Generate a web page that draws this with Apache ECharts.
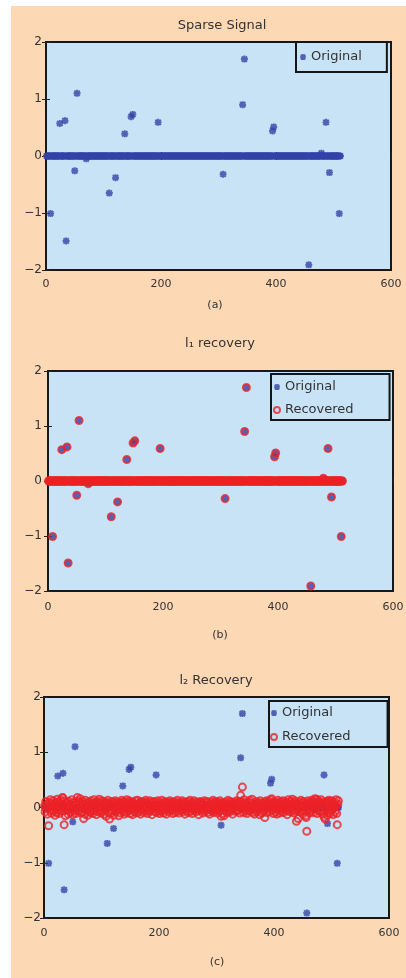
<!DOCTYPE html>
<html>
<head>
<meta charset="utf-8">
<title>Sparse signal recovery</title>
<script src="https://cdn.jsdelivr.net/npm/echarts@6/dist/echarts.min.js"></script>
<style>
  html, body { margin: 0; padding: 0; background: #ffffff; }
  #chart { position: absolute; left: 11px; top: 6px; width: 395px; height: 972px; }
</style>
</head>
<body>
<div id="chart"></div>
<script>
// signal length and axis ticks
const n = 512;
const xTicks = [0, 200, 400, 600];
const yTicks = [-2, -1, 0, 1, 2];

// non-zero entries of the sparse signal (index, value)
const spikeIdx = [8, 24, 33, 35, 50, 54, 70, 110, 121, 137, 148, 151, 195,
  308, 342, 345, 394, 396, 457, 479, 487, 493, 510];
const spikeVal = [-1.01, 0.57, 0.62, -1.49, -0.26, 1.10, -0.05, -0.65, -0.38, 0.39, 0.69, 0.73, 0.59,
  -0.32, 0.90, 1.70, 0.44, 0.51, -1.91, 0.05, 0.59, -0.29, -1.01];

// l2 (minimum norm) recovery, one value per index 1..512
const l2Recovered = [
  0.03, -0.08, 0.11, -0.02, 0.06, -0.12, 0.01, -0.33, 0.09, -0.05, 0.14, 0.02, -0.10, 0.07, -0.03, 0.12,
  -0.06, 0.04, -0.14, 0.08, 0.00, -0.09, 0.15, -0.04, 0.10, -0.11, 0.05, -0.01, 0.13, -0.07, 0.03, 0.18,
  0.17, -0.05, -0.31, 0.12, -0.15, 0.02, 0.09, -0.05, 0.04, -0.12, 0.11, -0.02, 0.07, -0.09, 0.01, 0.14,
  -0.04, -0.13, 0.08, -0.07, 0.03, 0.10, -0.11, 0.05, -0.01, 0.18, 0.12, -0.06, 0.09, -0.03, 0.16, -0.10,
  0.04, -0.08, 0.11, -0.02, -0.20, 0.06, -0.12, 0.13, 0.01, -0.05, 0.08, -0.14, 0.03, 0.10, -0.07, 0.05,
  -0.09, 0.12, -0.03, 0.07, -0.11, 0.02, 0.14, -0.06, 0.09, -0.01, -0.13, 0.06, 0.11, -0.08, 0.04, 0.15,
  -0.05, 0.08, -0.10, 0.03, 0.12, -0.07, 0.01, -0.12, 0.10, -0.04, 0.06, -0.16, 0.09, -0.02, 0.13, -0.09,
  0.05, -0.21, 0.07, -0.11, 0.02, 0.11, -0.06, 0.04, -0.14, 0.08, -0.01, 0.12, -0.08, 0.03, 0.10, -0.05,
  0.07, -0.15, 0.01, 0.09, -0.10, 0.05, 0.13, -0.03, 0.08, -0.07, 0.11, -0.12, 0.02, 0.06, -0.09, 0.14,
  -0.02, 0.09, -0.06, 0.12, 0.04, -0.11, 0.07, -0.04, 0.10, -0.13, 0.03, 0.08, -0.08, 0.01, 0.12, -0.05,
  0.06, -0.10, 0.13, -0.02, 0.05, -0.07, 0.09, -0.12, 0.02, 0.11, -0.04, 0.07, -0.09, 0.04, 0.10, -0.06,
  0.13, -0.03, 0.08, -0.11, 0.01, 0.06, -0.08, 0.12, -0.05, 0.03, 0.09, -0.13, 0.05, -0.01, 0.11, -0.07,
  0.04, 0.10, -0.09, 0.06, -0.02, 0.12, -0.06, 0.03, -0.11, 0.08, 0.00, -0.07, 0.13, -0.04, 0.07, -0.10,
  0.02, 0.11, -0.05, 0.09, -0.12, 0.05, -0.01, 0.10, -0.08, 0.03, 0.12, -0.06, 0.07, -0.03, 0.09, -0.11,
  0.05, -0.04, 0.11, -0.09, 0.02, 0.08, -0.07, 0.13, -0.02, 0.06, -0.10, 0.04, 0.09, -0.05, 0.01, 0.12,
  -0.08, 0.07, -0.03, 0.10, -0.12, 0.04, 0.08, -0.06, 0.02, 0.11, -0.09, 0.05, -0.01, 0.13, -0.07, 0.03,
  0.09, -0.11, 0.06, -0.04, 0.12, -0.02, 0.07, -0.08, 0.03, 0.10, -0.06, 0.01, -0.13, 0.08, -0.03, 0.11,
  -0.05, 0.04, 0.09, -0.10, 0.06, -0.01, 0.12, -0.07, 0.02, 0.08, -0.04, 0.11, -0.09, 0.05, 0.00, -0.12,
  0.07, -0.03, 0.10, -0.06, 0.04, 0.13, -0.09, 0.01, 0.08, -0.05, 0.11, -0.02, 0.06, -0.10, 0.03, 0.09,
  -0.07, 0.12, -0.04, -0.16, 0.05, 0.08, -0.11, 0.02, -0.15, 0.07, -0.06, 0.10, -0.01, 0.04, -0.09, 0.13,
  -0.03, 0.06, -0.08, 0.11, 0.01, -0.05, 0.09, -0.12, 0.04, 0.07, -0.02, 0.10, -0.07, 0.03, 0.12, -0.06,
  0.08, -0.04, 0.05, -0.10, 0.11, 0.22, -0.01, 0.07, 0.37, 0.02, -0.09, 0.14, -0.05, 0.09, -0.03, 0.06,
  -0.11, 0.04, 0.10, -0.07, 0.02, 0.13, -0.06, 0.08, -0.02, 0.15, -0.09, 0.05, 0.01, -0.12, 0.07, -0.04,
  0.11, -0.08, 0.03, 0.09, -0.05, 0.06, -0.13, 0.12, -0.01, 0.04, -0.10, 0.08, -0.06, 0.02, 0.10, -0.18,
  0.05, -0.03, 0.12, -0.09, 0.07, -0.02, 0.11, 0.01, -0.07, 0.14, 0.04, 0.16, -0.05, 0.09, -0.11, 0.06,
  -0.01, 0.10, -0.08, 0.03, -0.12, 0.07, 0.13, -0.04, 0.08, -0.10, 0.02, 0.11, -0.06, 0.05, -0.02, 0.12,
  -0.09, 0.06, 0.01, 0.10, -0.05, 0.08, -0.13, 0.03, 0.14, -0.07, 0.04, -0.02, 0.11, -0.08, 0.06, 0.15,
  -0.04, 0.09, -0.10, 0.02, 0.12, -0.06, -0.25, 0.07, -0.03, -0.20, 0.05, 0.10, -0.08, 0.01, 0.13, -0.05,
  0.08, -0.12, 0.04, 0.11, -0.07, 0.03, -0.15, -0.18, -0.43, 0.06, 0.12, -0.04, 0.09, -0.10, 0.02, 0.07,
  -0.06, 0.13, -0.02, 0.10, -0.09, 0.05, 0.16, -0.03, 0.08, 0.15, -0.11, 0.04, 0.12, -0.05, 0.09, -0.08,
  0.03, 0.14, -0.07, 0.06, -0.12, 0.10, -0.17, 0.01, -0.21, 0.08, -0.04, 0.11, -0.14, 0.05, 0.13, -0.06,
  0.09, -0.10, 0.02, 0.12, -0.05, 0.07, -0.13, 0.04, 0.10, -0.08, 0.03, 0.14, -0.11, -0.31, 0.06, 0.12
];

// full original signal: zero everywhere except the spikes
const original = [];
for (let i = 1; i <= n; i++) original.push([i, 0]);
spikeIdx.forEach((k, j) => { original[k - 1][1] = spikeVal[j]; });
// l1 recovery is exact
const l1Recovered = original.map(p => [p[0], p[1]]);
const l2Points = l2Recovered.map((v, i) => [i + 1, v]);

const FONT = 'DejaVu Sans';
const TXT = '#333333';
const BLUE = '#3342a8';
const RED = '#ec2227';
const AXBG = '#c8e3f6';
// bold asterisk, like a blurred matlab '*'
const star = 'path://M3.6,0H6.4V10H3.6Z M0,3.6H10V6.4H0Z M0.2,2.2L2.2,0.2L9.8,7.8L7.8,9.8Z M7.8,0.2L9.8,2.2L2.2,9.8L0.2,7.8Z';

const minus = v => String(v).replace('-', '\u2212');

// panel boxes in container pixels
const panels = [
  { left: 35, top: 36, width: 345, height: 228, xm: 9, ym: 4 },
  { left: 37, top: 365, width: 345, height: 220, xm: 11, ym: 6 },
  { left: 33, top: 691, width: 345, height: 221, xm: 10, ym: 3 }
];

const grid = panels.map(p => ({
  left: p.left, top: p.top, width: p.width, height: p.height,
  show: true, backgroundColor: AXBG, borderColor: '#181818', borderWidth: 2,
  outerBoundsMode: 'none'
}));

const tick = { inside: true, length: 4, lineStyle: { color: '#222', width: 1 } };
const xAxis = [], yAxis = [];
panels.forEach((p, g) => {
  xAxis.push({
    type: 'value', gridIndex: g, position: 'bottom',
    min: xTicks[0], max: xTicks[xTicks.length - 1], interval: 200,
    axisLine: { show: false }, axisTick: tick, splitLine: { show: false },
    axisLabel: { margin: p.xm, color: TXT, fontFamily: FONT, fontSize: 11, formatter: minus }
  });
  xAxis.push({
    type: 'value', gridIndex: g, position: 'top',
    min: xTicks[0], max: xTicks[xTicks.length - 1], interval: 200,
    axisLine: { show: false }, axisTick: tick, splitLine: { show: false }, axisLabel: { show: false }
  });
  yAxis.push({
    type: 'value', gridIndex: g, position: 'left',
    min: yTicks[0], max: yTicks[yTicks.length - 1], interval: 1,
    axisLine: { show: false }, axisTick: tick, splitLine: { show: false },
    axisLabel: { margin: p.ym, color: TXT, fontFamily: FONT, fontSize: 12, formatter: minus }
  });
  yAxis.push({
    type: 'value', gridIndex: g, position: 'right',
    min: yTicks[0], max: yTicks[yTicks.length - 1], interval: 1,
    axisLine: { show: false }, axisTick: tick, splitLine: { show: false }, axisLabel: { show: false }
  });
});

const origSeries = g => ({
  name: 'Original', type: 'scatter', xAxisIndex: g * 2, yAxisIndex: g * 2,
  data: original, symbol: star, symbolSize: 7,
  itemStyle: { color: BLUE }, silent: true
});
const recSeries = (g, data) => ({
  name: 'Recovered', type: 'scatter', xAxisIndex: g * 2, yAxisIndex: g * 2,
  data: data, symbol: 'circle', symbolSize: 7,
  itemStyle: { color: 'rgba(0,0,0,0)', borderColor: RED, borderWidth: 2 }, silent: true
});

const legendBase = {
  orient: 'vertical', itemWidth: 6, itemHeight: 6, borderRadius: 0,
  backgroundColor: AXBG, borderColor: '#151515', borderWidth: 2,
  textStyle: { fontFamily: FONT, fontSize: 13, color: TXT, lineHeight: 16 },
  selectedMode: false
};

const text = (x, y, s, size) => ({
  type: 'text', x: x, y: y, silent: true,
  style: {
    text: s, fill: TXT, font: size + 'px "' + FONT + '"',
    align: 'center', verticalAlign: 'middle', textAlign: 'center', textVerticalAlign: 'middle'
  }
});

const chart = echarts.init(document.getElementById('chart'));
chart.setOption({
  animation: false,
  backgroundColor: '#fcd8b4',
  grid: grid,
  xAxis: xAxis,
  yAxis: yAxis,
  legend: [
    Object.assign({}, legendBase, { data: ['Original'], left: 285, top: 36, padding: [7, 25, 7, 4] }),
    Object.assign({}, legendBase, { data: ['Original', 'Recovered'], left: 260, top: 368, itemGap: 7, padding: [5, 36, 2, 2] }),
    Object.assign({}, legendBase, { data: ['Original', 'Recovered'], left: 258, top: 695, itemGap: 8, padding: [4, 37, 2, 1] })
  ],
  graphic: [
    text(211, 20, 'Sparse Signal', 13),
    text(209, 338, 'l\u2081 recovery', 13),
    text(205, 675, 'l\u2082 Recovery', 13),
    text(204, 299, '(a)', 11),
    text(209, 629, '(b)', 11),
    text(206, 956, '(c)', 11)
  ],
  series: [
    origSeries(0),
    origSeries(1),
    recSeries(1, l1Recovered),
    origSeries(2),
    recSeries(2, l2Points)
  ]
});
</script>
</body>
</html>
